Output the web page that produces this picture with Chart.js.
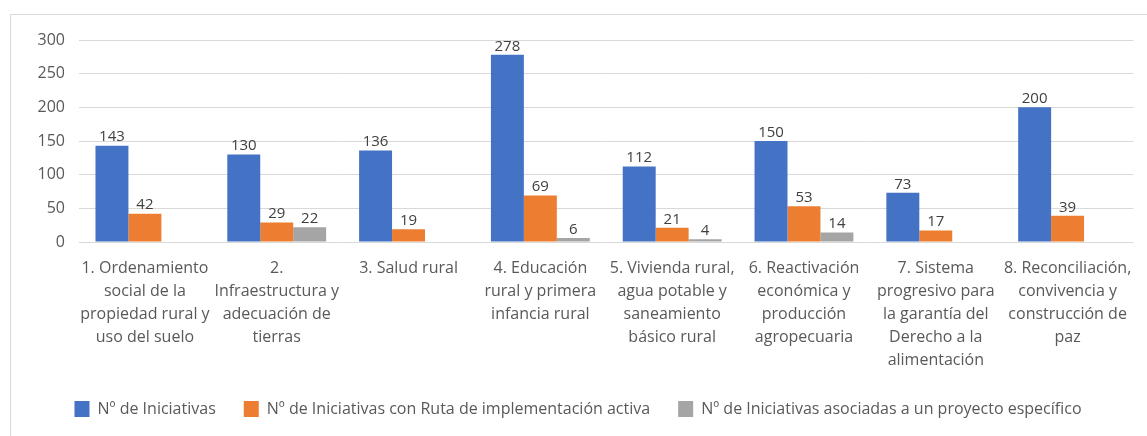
<!DOCTYPE html>
<html>
<head>
<meta charset="utf-8">
<script src="https://cdn.jsdelivr.net/npm/chart.js@4.4.0/dist/chart.umd.min.js"></script>
<style>
  html, body { margin: 0; padding: 0; background: #fff; }
  #wrap { position: relative; width: 1147px; height: 436px; overflow: hidden; }
  #frame { position: absolute; left: 10px; top: 14px; width: 1160px; height: 440px; border: 1px solid #d9d9d9; box-sizing: border-box; }
  canvas { position: absolute; left: 0; top: 0; }
</style>
</head>
<body>
<div id="wrap">
  <div id="frame"></div>
  <canvas id="myChart" width="1147" height="436"></canvas>
</div>
<script>
var categories = [
    ["1. Ordenamiento", "social de la", "propiedad rural y", "uso del suelo"],
    ["2.", "Infraestructura y", "adecuación de", "tierras"],
    ["3. Salud rural"],
    ["4. Educación", "rural y primera", "infancia rural"],
    ["5. Vivienda rural,", "agua potable y", "saneamiento", "básico rural"],
    ["6. Reactivación", "económica y", "producción", "agropecuaria"],
    ["7. Sistema", "progresivo para", "la garantía del", "Derecho a la", "alimentación"],
    ["8. Reconciliación,", "convivencia y", "construcción de", "paz"]
];
var iniciativas = [143, 130, 136, 278, 112, 150, 73, 200];
var conRuta = [42, 29, 19, 69, 21, 53, 17, 39];
var conProyecto = [null, 22, null, 6, 4, 14, null, null];
var yTicks = [0, 50, 100, 150, 200, 250, 300];

var fontFamily = "'Open Sans', 'Liberation Sans', sans-serif";
var textColor = '#595959';

// draws the value above each bar
var valueLabels = {
    id: 'valueLabels',
    afterDatasetsDraw: function(chart) {
        var ctx = chart.ctx;
        ctx.save();
        ctx.font = '15px ' + fontFamily;
        ctx.fillStyle = '#404040';
        ctx.textAlign = 'center';
        ctx.textBaseline = 'bottom';
        chart.data.datasets.forEach(function(ds, i) {
            var meta = chart.getDatasetMeta(i);
            meta.data.forEach(function(bar, j) {
                var v = ds.data[j];
                if (v === null || v === undefined) return;
                ctx.fillText(String(v), bar.x, bar.y - 1);
            });
        });
        ctx.restore();
    }
};

function renderChart() {
    var ctx = document.getElementById("myChart").getContext('2d');
    var inputOptions = {
        responsive: false,
        animation: false,
        layout: {
            padding: { left: 20, right: 11, top: 40, bottom: 9 }
        },
        plugins: {
            legend: {
                display: true,
                position: 'bottom',
                labels: {
                    boxWidth: 15,
                    boxHeight: 16,
                    padding: 28,
                    color: textColor,
                    font: { family: fontFamily, size: 16 }
                }
            },
            title: { display: false },
            tooltip: { enabled: false }
        },
        scales: {
            x: {
                grid: { display: false, drawTicks: false },
                border: { display: false },
                ticks: {
                    color: textColor,
                    padding: 15,
                    maxRotation: 0,
                    autoSkip: false,
                    font: { family: fontFamily, size: 16, lineHeight: 1.44 }
                },
                afterFit: function(scale) { scale.height = 131; }
            },
            y: {
                min: 0,
                max: 300,
                grid: { color: '#d9d9d9', drawTicks: false },
                border: { display: false },
                afterBuildTicks: function(scale) {
                    scale.ticks = yTicks.map(function(v) { return { value: v }; });
                },
                ticks: {
                    color: textColor,
                    padding: 14,
                    font: { family: fontFamily, size: 16 }
                },
                afterFit: function(scale) { scale.width = 59; }
            }
        }
    };

    var myChart = new Chart(ctx, {
        type: 'bar',
        data: {
            labels: categories,
            datasets: [{
                label: 'Nº de Iniciativas',
                data: iniciativas,
                backgroundColor: '#4472C4',
                categoryPercentage: 0.75,
                barPercentage: 1.0
            }, {
                label: 'Nº de Iniciativas con Ruta de implementación activa',
                data: conRuta,
                backgroundColor: '#ED7D31',
                categoryPercentage: 0.75,
                barPercentage: 1.0
            }, {
                label: 'Nº de Iniciativas asociadas a un proyecto específico',
                data: conProyecto,
                backgroundColor: '#A5A5A5',
                categoryPercentage: 0.75,
                barPercentage: 1.0
            }]
        },
        options: inputOptions,
        plugins: [valueLabels]
    });
}

renderChart();
</script>
</body>
</html>
